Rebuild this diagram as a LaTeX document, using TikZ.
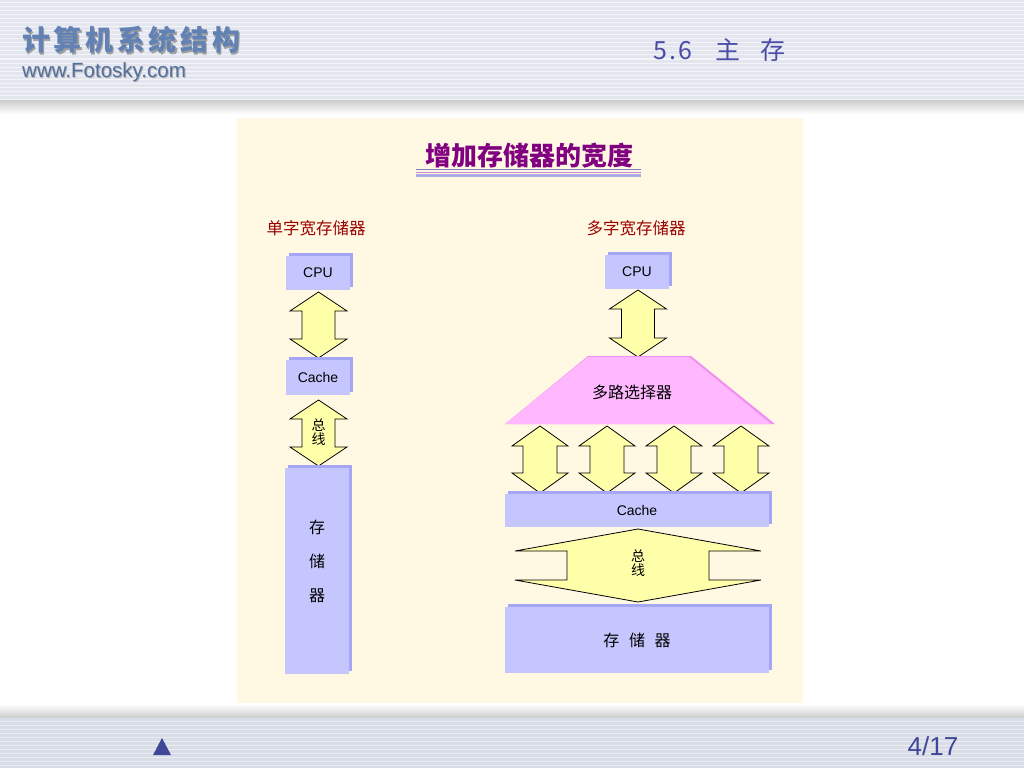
\documentclass[tikz,border=0pt]{standalone}
\usepackage{fontspec}
\setmainfont{Liberation Sans}
\newfontfamily\cjk{Noto Sans CJK SC}
\newfontfamily\cjkwide[LetterSpace=13]{Noto Sans CJK SC}
\usetikzlibrary{calc}
\definecolor{panel}{HTML}{FFF9E3}
\definecolor{hdr}{HTML}{E3E6EF}
\definecolor{ftr}{HTML}{D9DDE8}
\definecolor{boxfill}{HTML}{C6C6FF}
\definecolor{boxshadow}{HTML}{A6A6F6}
\definecolor{arrowfill}{HTML}{FFFFAA}
\definecolor{muxfill}{HTML}{FFB8FF}
\definecolor{muxedge}{HTML}{F090F0}
\definecolor{titlepurple}{HTML}{800080}
\definecolor{subred}{HTML}{990000}
\definecolor{hdrblue}{HTML}{6282B6}
\definecolor{navy}{HTML}{3E4896}
\definecolor{secblue}{HTML}{4A4CA6}
\definecolor{ulineA}{HTML}{8080C0}
\definecolor{ulineB}{HTML}{C882C8}
\definecolor{ulineC}{HTML}{AAAAE6}
\tikzset{
  blk/.style={fill=boxfill, draw=none},
  blkshadow/.style={fill=boxshadow, draw=none},
  dblarrow/.style={fill=arrowfill, draw=black, line width=0.8pt, line join=miter},
  boxtext/.style={font=\fontsize{14}{16}\selectfont, text=black},
  cjktext/.style={font=\cjk\fontsize{16}{18}\selectfont, text=black},
}
\newcommand{\VArrow}[6]{%
  \draw[dblarrow] (#1,#2) -- (#1+#4,#2+#6) -- (#1+#5,#2+#6) -- (#1+#5,#3-#6) -- (#1+#4,#3-#6)
   -- (#1,#3) -- (#1-#4,#3-#6) -- (#1-#5,#3-#6) -- (#1-#5,#2+#6) -- (#1-#4,#2+#6) -- cycle;}
\newcommand{\Blk}[5]{%
  \fill[blkshadow] (#1+3,#2-3) rectangle (#3+3,#4-3);
  \fill[blk] (#1,#2) rectangle (#3,#4);
  \node[inner sep=0] (#5) at ({(#1+#3)/2},{(#2+#4)/2}) {};}
\begin{document}
\begin{tikzpicture}[x=1pt,y=-1pt]
\useasboundingbox (0,0) rectangle (1024,768);
\fill[white] (0,0) rectangle (1024,768);
% header
\shade[top color=gray!45, bottom color=white] (0,98) rectangle (1024,114);
\fill[hdr] (0,0) rectangle (1024,100);
\foreach \y in {3,7,...,99} \draw[white!55!hdr, line width=1pt] (0,\y) -- (1024,\y);
\node[anchor=west, inner sep=0, text=gray!75, font=\cjkwide\bfseries\fontsize{28}{32}\selectfont] at (23.5,41.5) {计算机系统结构};
\node[anchor=west, inner sep=0, text=hdrblue, font=\cjkwide\bfseries\fontsize{28}{32}\selectfont] (hdrtitle) at (22,40) {计算机系统结构};
\node[anchor=west, inner sep=0, text=gray!60, font=\fontsize{20.5}{22}\selectfont] at (23,73) {www.Fotosky.com};
\node[anchor=west, inner sep=0, text=hdrblue!85!black, font=\fontsize{20.5}{22}\selectfont] (site) at (22,72) {www.Fotosky.com};
\node[anchor=west, inner sep=0, text=secblue, font=\cjk\fontsize{25}{28}\selectfont] (sec) at (653,50) {5\hspace{2pt}.\hspace{2pt}6\hspace{24pt}主\hspace{20pt}存};
% footer
\shade[top color=white, bottom color=gray!40] (0,704) rectangle (1024,718);
\fill[ftr] (0,718) rectangle (1024,768);
\foreach \y in {721,725,...,767} \draw[white!45!ftr, line width=1pt] (0,\y) -- (1024,\y);
\fill[navy] (153,755) -- (162,738) -- (171,755) -- cycle;
\node[text=navy, font=\fontsize{26}{28}\selectfont] (pg) at (933,746) {4/17};
% panel
\fill[panel] (237,118) rectangle (803,703);
\node[text=titlepurple, font=\cjk\bfseries\fontsize{26}{28}\selectfont] (title) at (529,156) {增加存储器的宽度};
\draw[ulineA, line width=1pt] (416,169.5) -- (641,169.5);
\draw[ulineB, line width=1pt] (416,172) -- (641,172);
\draw[ulineC, line width=2.5pt] (416,175.5) -- (641,175.5);
\node[text=subred, font=\cjk\fontsize{16.5}{18}\selectfont] (lsub) at (316,228) {单字宽存储器};
\node[text=subred, font=\cjk\fontsize{16.5}{18}\selectfont] (rsub) at (636,228) {多字宽存储器};
% left column
\Blk{286}{256}{350}{290}{cpuL}
\node[boxtext] at (cpuL) {CPU};
\VArrow{318.5}{292}{358}{28.5}{16.5}{19}
\Blk{286}{360}{350}{395}{cacheL}
\node[boxtext] at (cacheL) {Cache};
\VArrow{318.5}{400}{466}{28.5}{16.5}{19}
\node[cjktext, font=\cjk\fontsize{14}{15}\selectfont, align=center, inner sep=0] (busL) at (318.5,432) {总\\[-1pt]线};
\Blk{285}{468}{349}{674}{memL}
\node[cjktext, align=center] at (317,561) {存\\[16pt]储\\[16pt]器};
% right column
\Blk{605}{255}{669}{289}{cpuR}
\node[boxtext] at (cpuR) {CPU};
\VArrow{638}{290}{357}{28.5}{16.5}{19}
\fill[muxedge] (588,356) -- (691,356) -- (775,424) -- (505,424) -- cycle;
\fill[muxfill] (588,357) -- (689,357) -- (771,424) -- (505,424) -- cycle;
\node[cjktext] (mux) at (632,392) {多路选择器};
\foreach \cx in {540,607,674,741} {\VArrow{\cx}{426}{493}{28}{17}{20}}
\Blk{505}{494}{769}{527}{cacheR}
\node[boxtext] at (cacheR) {Cache};
\VArrow{638}{529}{602}{123}{71}{22}
\node[cjktext, font=\cjk\fontsize{14}{15}\selectfont, align=center, inner sep=0] (busR) at (638,563) {总\\[-1pt]线};
\Blk{505}{607}{769}{673}{memR}
\node[cjktext] at (memR) {存\hspace{0.6em}储\hspace{0.6em}器};
\end{tikzpicture}
\end{document}
